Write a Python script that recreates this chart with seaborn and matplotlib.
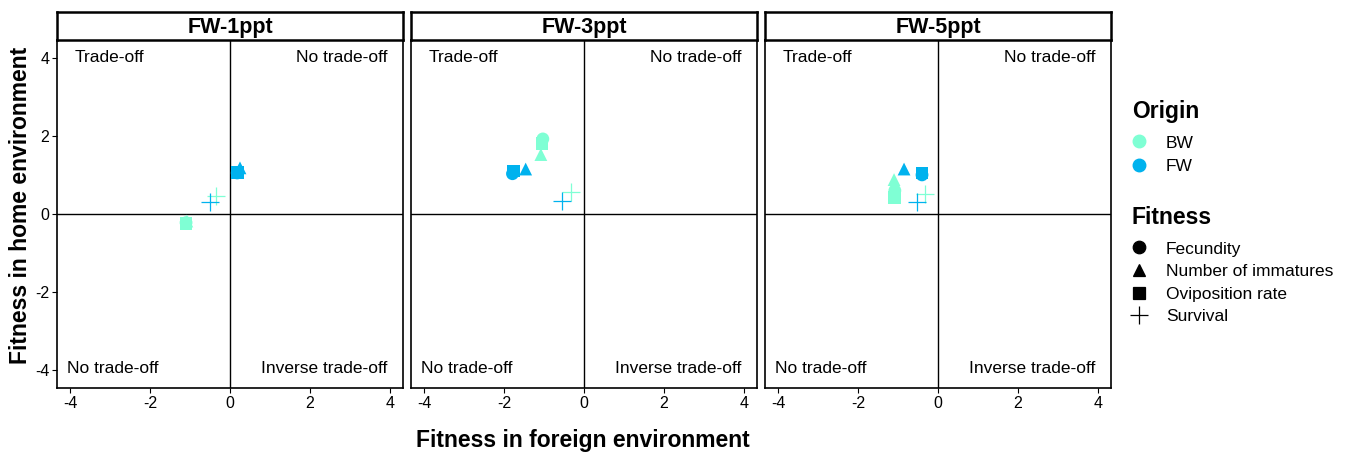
import numpy as np
import pandas as pd
import matplotlib
matplotlib.use("Agg")
import matplotlib.pyplot as plt
import seaborn as sns
from matplotlib.lines import Line2D

panels = ["FW-1ppt", "FW-3ppt", "FW-5ppt"]
origins = ["BW", "FW"]
fitness = ["Fecundity", "Number of immatures", "Oviposition rate", "Survival"]

# foreign (x) and home (y) fitness, per panel, per origin, order of `fitness`
bw_x = {"FW-1ppt": [-1.10, -1.08, -1.10, -0.35],
        "FW-3ppt": [-1.03, -1.08, -1.05, -0.33],
        "FW-5ppt": [-1.08, -1.10, -1.08, -0.32]}
bw_y = {"FW-1ppt": [-0.22, -0.18, -0.25, 0.46],
        "FW-3ppt": [1.92, 1.52, 1.80, 0.55],
        "FW-5ppt": [0.60, 0.88, 0.42, 0.50]}
fw_x = {"FW-1ppt": [0.18, 0.25, 0.18, -0.50],
        "FW-3ppt": [-1.79, -1.46, -1.76, -0.55],
        "FW-5ppt": [-0.40, -0.85, -0.40, -0.52]}
fw_y = {"FW-1ppt": [1.05, 1.18, 1.06, 0.30],
        "FW-3ppt": [1.03, 1.15, 1.10, 0.33],
        "FW-5ppt": [1.00, 1.15, 1.05, 0.30]}

rows = []
for p in panels:
    for i, f in enumerate(fitness):
        rows.append(dict(panel=p, Origin="BW", Fitness=f, x=bw_x[p][i], y=bw_y[p][i]))
        rows.append(dict(panel=p, Origin="FW", Fitness=f, x=fw_x[p][i], y=fw_y[p][i]))
df = pd.DataFrame(rows)

colors = {"BW": "#7FFFD4", "FW": "#00B2EE"}
markers = {"Fecundity": "o", "Number of immatures": "^", "Oviposition rate": "s", "Survival": "+"}
filled_markers = {k: v for k, v in markers.items() if k != "Survival"}

sns.set_style("white")
plt.rcParams["font.family"] = ["Liberation Sans", "DejaVu Sans"]
plt.rcParams["axes.unicode_minus"] = False
plt.rcParams["text.color"] = "black"

fig = plt.figure(figsize=(13.54, 4.53), dpi=100)
W, H = 1354, 453
lefts = [57, 411, 765]
pw = 346
top_ax, bot_ax = 40, 388
strip_top = 12

for k, p in enumerate(panels):
    ax = fig.add_axes([lefts[k] / W, 1 - bot_ax / H, pw / W, (bot_ax - top_ax) / H])
    sub = df[df.panel == p]
    filled = sub[sub.Fitness != "Survival"]
    plus = sub[sub.Fitness == "Survival"]
    sns.scatterplot(data=filled, x="x", y="y", hue="Origin", style="Fitness",
                    palette=colors, markers=filled_markers, hue_order=origins,
                    style_order=fitness[:3], s=85, linewidth=0, legend=False, ax=ax, zorder=3)
    for o in origins:
        pp = plus[plus.Origin == o]
        ax.plot(pp.x, pp.y, linestyle="none", marker="+", markersize=12.5,
                markeredgewidth=0.9, color=colors[o], zorder=3)
    ax.axhline(0, color="black", lw=1.0, zorder=1)
    ax.axvline(0, color="black", lw=1.0, zorder=1)
    ax.set_xlim(-4.33, 4.33)
    ax.set_ylim(-4.45, 4.45)
    ax.set_xticks([-4, -2, 0, 2, 4])
    ax.set_yticks([-4, -2, 0, 2, 4])
    ax.tick_params(axis="both", which="both", direction="out", length=3.5, width=0.8,
                   labelsize=11.5, colors="black", left=(k == 0), bottom=True,
                   labelleft=(k == 0), pad=2)
    for s in ax.spines.values():
        s.set_color("black")
        s.set_linewidth(1.2)
    ax.set_xlabel("")
    ax.set_ylabel("")
    fs = 12.5
    ax.text(-3.9, 4.0, "Trade-off", ha="left", va="center", fontsize=fs, color="black")
    ax.text(3.93, 4.0, "No trade-off", ha="right", va="center", fontsize=fs, color="black")
    ax.text(-4.07, -3.95, "No trade-off", ha="left", va="center", fontsize=fs, color="black")
    ax.text(3.93, -3.95, "Inverse trade-off", ha="right", va="center", fontsize=fs, color="black")
    # strip
    sax = fig.add_axes([lefts[k] / W, 1 - top_ax / H, pw / W, (top_ax - strip_top) / H])
    sax.set_xticks([]); sax.set_yticks([])
    for s in sax.spines.values():
        s.set_color("black"); s.set_linewidth(1.8)
    sax.set_facecolor("white")
    sax.text(0.5, 0.45, p, ha="center", va="center", fontsize=15.5, fontweight="bold",
             transform=sax.transAxes, color="black")

fig.text(583 / W, 1 - 440 / H, "Fitness in foreign environment",
         ha="center", va="center", fontsize=16.5, fontweight="bold", color="black")
fig.text(21 / W, 1 - 205 / H, "Fitness in home environment", ha="center", va="center",
         rotation=90, fontsize=16.5, fontweight="bold", color="black")

# legends
h1 = [Line2D([], [], linestyle="none", marker="o", markersize=9, color=colors[o]) for o in origins]
leg1 = fig.legend(h1, origins, title="Origin", loc="upper left",
                  bbox_to_anchor=(1118 / W, 1 - 86 / H), frameon=False, fontsize=12.5,
                  title_fontproperties={"weight": "bold", "size": 16.5}, handletextpad=1.15,
                  labelspacing=0.5, handlelength=0.8, borderpad=0.3)
leg1._legend_box.align = "left"
leg1._legend_box.sep = 9
h2 = [Line2D([], [], linestyle="none", marker=markers[f], markersize=(13 if f == "Survival" else 9),
             markeredgewidth=0.9, color="black") for f in fitness]
leg2 = fig.legend(h2, fitness, title="Fitness", loc="upper left",
                  bbox_to_anchor=(1118 / W, 1 - 192 / H), frameon=False, fontsize=12.5,
                  title_fontproperties={"weight": "bold", "size": 16.5}, handletextpad=1.15,
                  labelspacing=0.43, handlelength=0.8, borderpad=0.3)
leg2._legend_box.align = "left"
leg2._legend_box.sep = 9

fig.savefig("out.png", dpi=100)
